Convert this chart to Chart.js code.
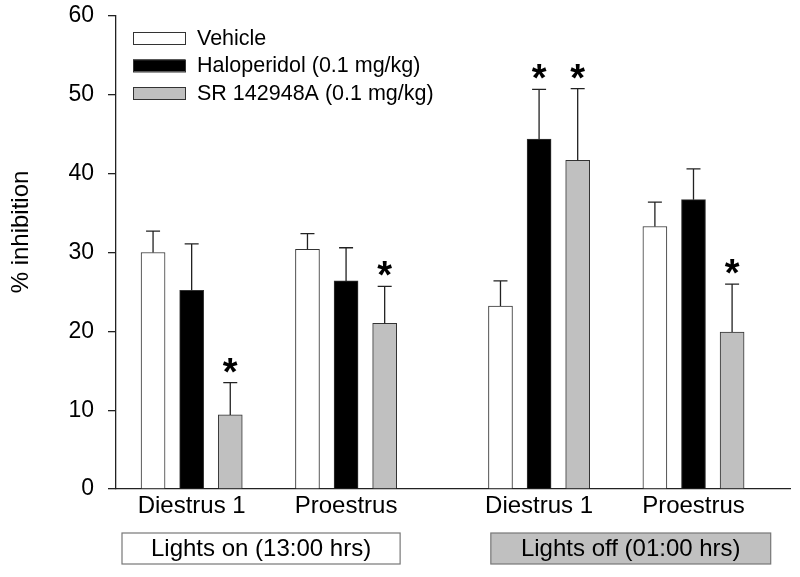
<!DOCTYPE html>
<html>
<head>
<meta charset="utf-8">
<title>% inhibition</title>
<script src="https://cdn.jsdelivr.net/npm/chart.js@4/dist/chart.umd.min.js"></script>
<style>
  html, body { margin: 0; padding: 0; background: #fff; }
  #wrap { width: 800px; height: 577px; }
</style>
</head>
<body>
<div id="wrap"><canvas id="canvas" width="800" height="577"></canvas></div>
<script>
// group labels along x
var groups = ["Diestrus 1", "Proestrus", "Diestrus 1", "Proestrus"];
var seriesNames = ["Vehicle", "Haloperidol (0.1 mg/kg)", "SR 142948A (0.1 mg/kg)"];

// means (% inhibition)
var vehicle     = [30.0, 30.4, 23.2, 33.3];
var haloperidol = [25.2, 26.4, 44.4, 36.7];
var sr142948a   = [ 9.4, 21.0, 41.7, 19.9];

// SEM (upper error bars only)
var vehicleErr     = [2.7, 2.0, 3.2, 3.1];
var haloperidolErr = [5.9, 4.2, 6.3, 3.9];
var sr142948aErr   = [4.1, 4.7, 9.1, 6.1];

// * = significant
var vehicleSig     = [0, 0, 0, 0];
var haloperidolSig = [0, 0, 1, 0];
var sr142948aSig   = [1, 1, 1, 1];

var yTicks = [0, 10, 20, 30, 40, 50, 60];
var yTitle = "% inhibition";
var periods = ["Lights on (13:00 hrs)", "Lights off (01:00 hrs)"];

var FONT = "'Liberation Sans', Arial, sans-serif";

// slot of bar s in group g (extra gap between the two light periods)
function slot(g, s) { return g * 4 + (g >= 2 ? 1 : 0) + s; }
var groupCenters = groups.map(function (d, g) { return slot(g, 1); });

var allValues = [vehicle, haloperidol, sr142948a];
var allErr = [vehicleErr, haloperidolErr, sr142948aErr];
var allSig = [vehicleSig, haloperidolSig, sr142948aSig];
var fills = ["#ffffff", "#000000", "#c0c0c0"];

var datasets = allValues.map(function (vals, s) {
  return {
    label: seriesNames[s],
    data: vals.map(function (v, g) { return { x: slot(g, s), y: v }; }),
    backgroundColor: fills[s],
    borderColor: "#333333",
    borderWidth: 1,
    borderSkipped: "bottom",
    barThickness: 24,
    grouped: false,
    errors: allErr[s],
    sig: allSig[s]
  };
});

var extras = {
  id: "extras",
  afterDatasetsDraw: function (chart) {
    var ctx = chart.ctx;
    var y = chart.scales.y;
    ctx.save();
    chart.data.datasets.forEach(function (ds, i) {
      var meta = chart.getDatasetMeta(i);
      meta.data.forEach(function (bar, j) {
        var top = y.getPixelForValue(ds.data[j].y);
        var et = y.getPixelForValue(ds.data[j].y + ds.errors[j]);
        ctx.strokeStyle = "#222";
        ctx.lineWidth = 1.3;
        ctx.beginPath();
        ctx.moveTo(bar.x, top);
        ctx.lineTo(bar.x, et);
        ctx.moveTo(bar.x - 7, et);
        ctx.lineTo(bar.x + 7, et);
        ctx.stroke();
        if (ds.sig[j]) {
          ctx.fillStyle = "#000";
          ctx.font = "bold 38px " + FONT;
          ctx.textAlign = "center";
          ctx.textBaseline = "alphabetic";
          ctx.fillText("*", bar.x, et + 2);
        }
      });
    });
    ctx.restore();
  },
  afterDraw: function (chart) {
    var ctx = chart.ctx;
    var area = chart.chartArea;
    var x = chart.scales.x;
    ctx.save();
    // y title
    ctx.translate(21, 232);
    ctx.rotate(-Math.PI / 2);
    ctx.fillStyle = "#000";
    ctx.font = "24px " + FONT;
    ctx.textAlign = "center";
    ctx.textBaseline = "middle";
    ctx.fillText(yTitle, 0, 0);
    ctx.setTransform(1, 0, 0, 1, 0, 0);
    // legend
    chart.data.datasets.forEach(function (ds, i) {
      var cy = area.top + 22 + i * 27.5;
      ctx.fillStyle = ds.backgroundColor;
      ctx.strokeStyle = "#333";
      ctx.lineWidth = 1;
      ctx.fillRect(area.left + 17, cy - 6, 52, 12);
      ctx.strokeRect(area.left + 17.5, cy - 5.5, 52, 12);
      ctx.fillStyle = "#000";
      ctx.font = "21.5px " + FONT;
      ctx.textAlign = "left";
      ctx.textBaseline = "middle";
      ctx.fillText(ds.label, area.left + 81, cy + 1);
    });
    // period boxes under the axis
    var spans = [[area.left + 6, x.getPixelForValue(6.4)], [x.getPixelForValue(8.75), x.getPixelForValue(16.0)]];
    var bg = ["#ffffff", "#c0c0c0"];
    spans.forEach(function (sp, k) {
      var top = area.bottom + 44;
      ctx.fillStyle = bg[k];
      ctx.fillRect(sp[0], top, sp[1] - sp[0], 31);
      ctx.strokeStyle = "#777";
      ctx.lineWidth = 1.2;
      ctx.strokeRect(sp[0], top, sp[1] - sp[0], 31);
      ctx.fillStyle = "#000";
      ctx.font = "24px " + FONT;
      ctx.textAlign = "center";
      ctx.textBaseline = "middle";
      ctx.fillText(periods[k], (sp[0] + sp[1]) / 2, top + 16);
    });
    ctx.restore();
  }
};

new Chart(document.getElementById("canvas"), {
  type: "bar",
  data: { datasets: datasets },
  plugins: [extras],
  options: {
    responsive: false,
    animation: false,
    layout: { padding: { top: 16, right: 10, left: 0, bottom: 0 } },
    plugins: { legend: { display: false }, tooltip: { enabled: false } },
    scales: {
      x: {
        type: "linear",
        offset: false,
        bounds: "data",
        min: -0.96,
        max: 16.5,
        grid: { display: false, offset: false },
        border: { display: true, color: "#222", width: 1.3 },
        afterBuildTicks: function (scale) {
          scale.ticks = groupCenters.map(function (v) { return { value: v }; });
        },
        afterFit: function (scale) { scale.height = 88; scale.paddingLeft = 0; scale.paddingRight = 0; },
        ticks: {
          color: "#000",
          font: { family: FONT, size: 24, lineHeight: 1 },
          padding: -3,
          maxRotation: 0,
          autoSkip: false,
          callback: function (v) {
            var g = groupCenters.indexOf(v);
            return g >= 0 ? groups[g] : "";
          }
        }
      },
      y: {
        min: 0,
        max: 60,
        afterBuildTicks: function (scale) {
          scale.ticks = yTicks.map(function (v) { return { value: v }; });
        },
        afterFit: function (scale) { scale.width = 116; scale.paddingTop = 0; scale.paddingBottom = 0; },
        grid: { drawOnChartArea: false, drawTicks: true, tickLength: 8, color: "#222", lineWidth: 1.3 },
        border: { display: true, color: "#222", width: 1.3 },
        ticks: { color: "#000", font: { family: FONT, size: 23 }, padding: 14 }
      }
    }
  }
});
</script>
</body>
</html>
